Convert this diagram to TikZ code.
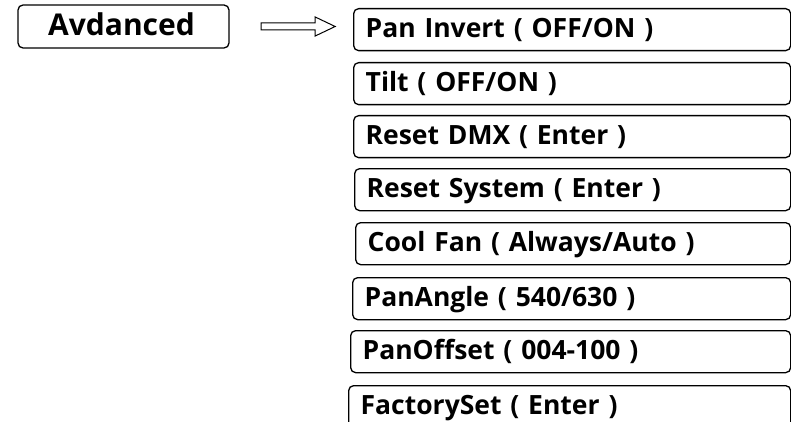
\documentclass[tikz,border=0pt]{standalone}
\usepackage{fontspec}
\newfontfamily\menufont{Open Sans}
\usetikzlibrary{positioning, shapes.arrows}
\tikzset{
  x=1pt, y=-1pt,
  itembox/.style={
    rectangle,
    rounded corners=5pt,
    draw=black, line width=1.3pt,
    anchor=north west,
    minimum height=42pt,
    inner xsep=12pt, inner ysep=0pt,
    text height=29pt, text depth=13pt,
    align=left,
    font=\menufont\bfseries\fontsize{26.5}{30}\selectfont},
  topbox/.style={
    rectangle,
    rounded corners=5pt,
    draw=black, line width=1.3pt,
    minimum width=211pt, minimum height=43pt,
    inner sep=0pt,
    text height=31pt, text depth=12pt,
    font=\menufont\bfseries\fontsize{30}{33}\selectfont},
  blockarrow/.style={
    single arrow, draw=black, line width=1pt,
    inner sep=3pt, minimum height=74pt,
    single arrow head extend=6pt,
    single arrow tip angle=51},
}
\begin{document}
\begin{tikzpicture}
\useasboundingbox (0,0) rectangle (791,422);
\node[topbox] (adv) at (123.5,26.5) {Avdanced\hspace*{4pt}};
\node[blockarrow, right=31pt of adv] (arr) {};
% menu entries: left edge / top edge / label
\foreach \lft/\top/\txt [count=\i] in {353/8/{Pan Invert ( OFF/ON )},
    353/62/{Tilt ( OFF/ON )},
    353/115/{Reset DMX ( Enter )},
    354/168/{Reset System ( Enter )},
    355/222/{Cool Fan ( Always/Auto )},
    352/277/{PanAngle ( 540/630 )},
    350/330/{PanOffset ( 004-100 )},
    348/385/{FactorySet ( Enter )}}{
    \node[itembox, minimum width={(790-\lft)*1pt}, text width={(790-\lft-24)*1pt}]
      (item\i) at (\lft,\top) {\txt};
    }
\end{tikzpicture}
\end{document}
